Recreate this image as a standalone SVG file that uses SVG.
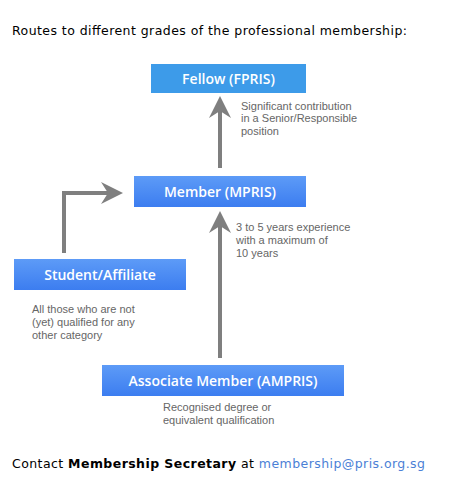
<svg xmlns="http://www.w3.org/2000/svg" width="453" height="485" viewBox="0 0 453 485">
<defs>
<linearGradient id="blu" x1="0" y1="0" x2="0" y2="1">
<stop offset="0" stop-color="#5d9bf7"/>
<stop offset="1" stop-color="#3c7df0"/>
</linearGradient>
<marker id="ah" viewBox="-22 -11 22 22" refX="-4" refY="0" markerWidth="22" markerHeight="22" markerUnits="userSpaceOnUse" orient="auto">
<path d="M0,0 L-22,-11 L-15,0 L-22,11 Z" fill="#7f7f7f"/>
</marker>
<style>
.box{fill:url(#blu);}
.fel{fill:#3d9be9;}
.lbl{font-family:"Open Sans","Liberation Sans",sans-serif;font-size:14px;font-weight:600;fill:#ffffff;text-anchor:middle;}
.note{font-family:"Liberation Sans",Arial,sans-serif;font-size:11px;fill:#666666;}
.hdr{font-family:"DejaVu Sans",Verdana,sans-serif;font-size:12.5px;fill:#000000;}
.con{fill:none;stroke:#7f7f7f;stroke-width:4;marker-end:url(#ah);}
</style>
</defs>
<rect width="453" height="485" fill="#ffffff"/>
<text class="hdr" x="12" y="34.5" textLength="395" lengthAdjust="spacing">Routes to different grades of the professional membership:</text>

<g id="connectors">
<path class="con" d="M220,168 V100"/>
<path class="con" d="M220,358 V215"/>
<path class="con" d="M64,253 V193 H119"/>
</g>

<g id="fellow">
<rect class="fel" x="151" y="64" width="155" height="29"/>
<text class="lbl" x="228.5" y="83.5" font-weight="700">Fellow (FPRIS)</text>
<text class="note"><tspan x="241" y="109.5">Significant contribution</tspan><tspan x="241" y="122">in a Senior/Responsible</tspan><tspan x="241" y="134.5">position</tspan></text>
</g>

<g id="member">
<rect class="box" x="134" y="176" width="172" height="31"/>
<text class="lbl" x="220" y="196.5">Member (MPRIS)</text>
<text class="note"><tspan x="236" y="231">3 to 5 years experience</tspan><tspan x="236" y="244">with a maximum of</tspan><tspan x="236" y="257">10 years</tspan></text>
</g>

<g id="student">
<rect class="box" x="14" y="259" width="172" height="31"/>
<text class="lbl" x="100" y="279.5">Student/Affiliate</text>
<text class="note"><tspan x="32" y="313">All those who are not</tspan><tspan x="32" y="326">(yet) qualified for any</tspan><tspan x="32" y="339">other category</tspan></text>
</g>

<g id="associate">
<rect class="box" x="102" y="365" width="242" height="31"/>
<text class="lbl" x="223" y="385.5">Associate Member (AMPRIS)</text>
<text class="note"><tspan x="163" y="411">Recognised degree or</tspan><tspan x="163" y="424">equivalent qualification</tspan></text>
</g>

<text class="hdr" x="12" y="467.5" textLength="413" lengthAdjust="spacing">Contact <tspan font-weight="700">Membership Secretary</tspan> at <tspan fill="#4b7fd6">membership@pris.org.sg</tspan></text>
</svg>
